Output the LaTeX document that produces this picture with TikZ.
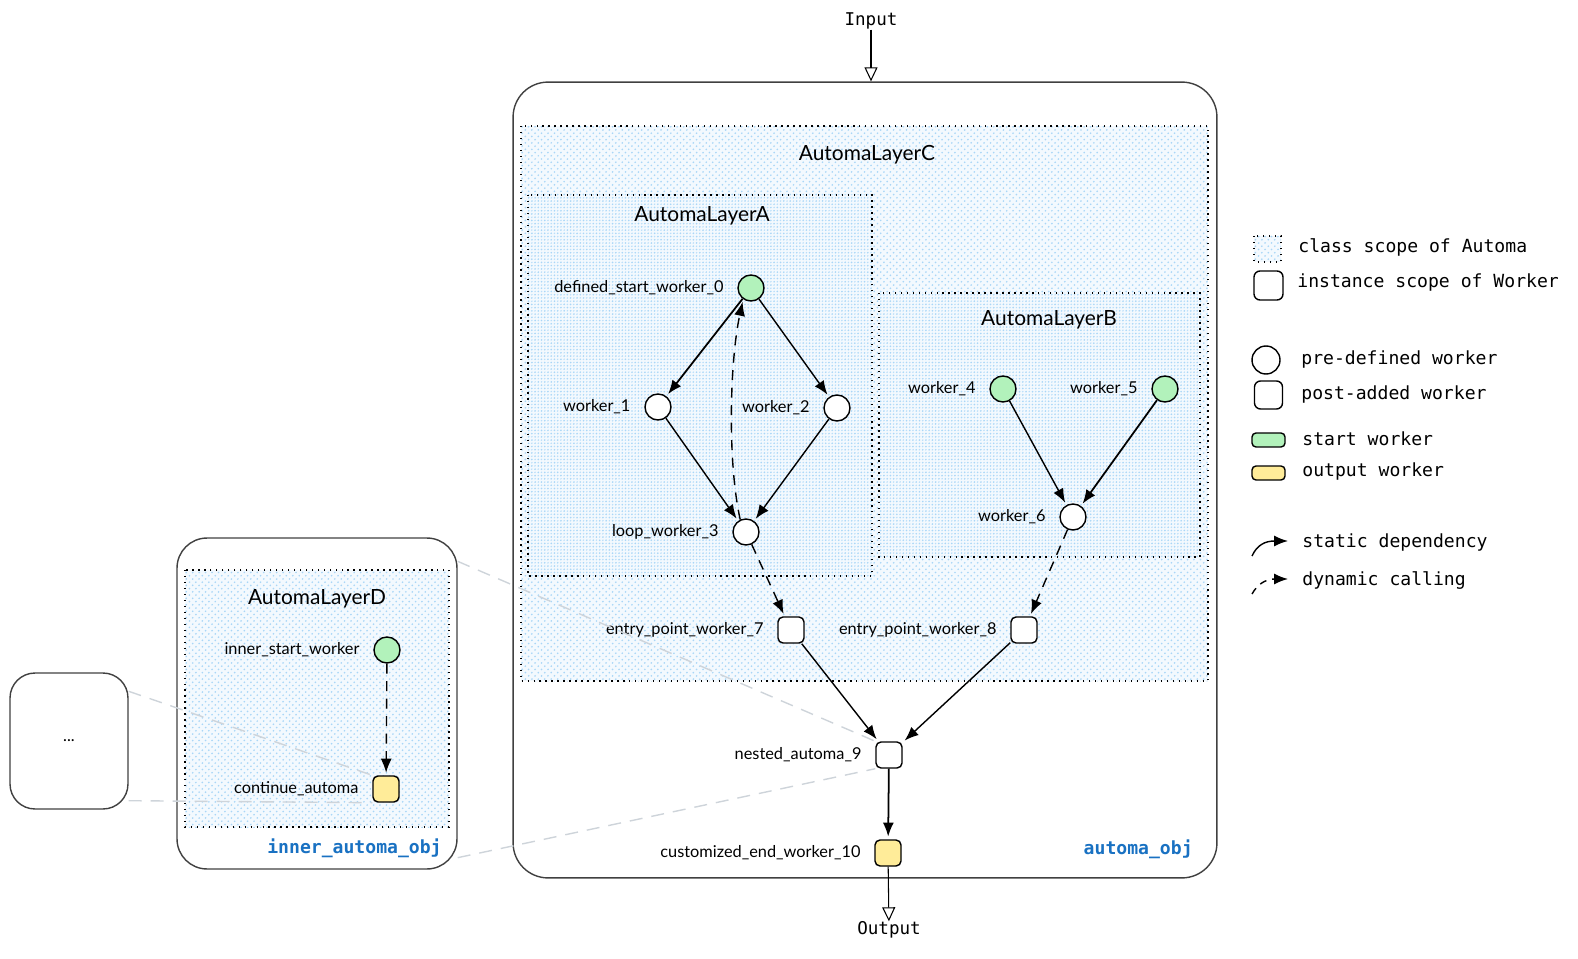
\documentclass[tikz,border=0pt]{standalone}
\usepackage{fontspec}
\setmainfont{Lato}
\setmonofont{DejaVu Sans Mono}
\usetikzlibrary{positioning, arrows.meta, patterns.meta}

\definecolor{startgreen}{HTML}{B2F2BB}
\definecolor{outyellow}{HTML}{FFEC99}
\definecolor{objblue}{HTML}{1971C2}
\definecolor{hatchblue}{HTML}{A9D6F7}
\definecolor{scopebg}{HTML}{F3F9FE}
\definecolor{zoomgray}{HTML}{CED4DA}

\tikzset{
  worker/.style={circle, draw, line width=0.8pt, minimum size=0.52cm, inner sep=0pt, fill=white},
  startworker/.style={worker, fill=startgreen},
  added/.style={rectangle, rounded corners=0.1cm, draw, line width=0.8pt, minimum size=0.52cm, inner sep=0pt, fill=white},
  outworker/.style={added, fill=outyellow},
  lbl/.style={font=\fontsize{9.3}{11}\selectfont, inner sep=0pt},
  title/.style={font=\fontsize{11.9}{14}\selectfont, inner sep=0pt},
  io/.style={font=\ttfamily\fontsize{10}{12}\selectfont, inner sep=0pt},
  legend/.style={font=\ttfamily\fontsize{10.3}{12}\selectfont, inner sep=0pt, anchor=west},
  objname/.style={font=\ttfamily\bfseries\fontsize{10.3}{12}\selectfont, text=objblue, inner sep=0pt, anchor=east},
  instbox/.style={rectangle, draw=black!75, line width=0.8pt, inner sep=0pt},
  scopebox/.style={draw, line width=0.8pt, dash pattern=on 0.8pt off 2.6pt,
    preaction={fill=scopebg}, pattern={Lines[angle=45, distance=2.6pt, line width=0.7pt]}, pattern color=hatchblue},
  innerscope/.style={draw, line width=0.8pt, dash pattern=on 0.8pt off 2.6pt,
    pattern={Lines[angle=45, distance=2.6pt, yshift=1.84pt, line width=0.6pt]}, pattern color=hatchblue!80},
  dep/.style={-{Latex[length=0.28cm,width=0.22cm]}, line width=0.8pt, shorten >=1.5pt},
  dyn/.style={dep, dash pattern=on 0.2cm off 0.15cm},
  ioarrow/.style={-{Triangle[open,length=0.28cm,width=0.26cm]}, line width=0.6pt},
  zoomline/.style={draw=zoomgray, line width=0.8pt, dash pattern=on 0.26cm off 0.18cm},
}

\begin{document}
\begin{tikzpicture}[x=0.02cm, y=-0.02cm, label distance=0.27cm]
\useasboundingbox (0,0) rectangle (1578,959);

% instance scopes
\node[instbox, rounded corners=0.7cm, minimum width=14.08cm, minimum height=15.92cm] (main) at (865,480) {};
\node[instbox, rounded corners=0.6cm, minimum width=5.6cm, minimum height=6.62cm] (inner) at (317,703.5) {};
\node[instbox, rounded corners=0.5cm, minimum width=2.36cm, minimum height=2.72cm, font=\fontsize{9.3}{11}\selectfont] (dots) at (69,741) {...};

% class scopes
\draw[scopebox] (521,126) rectangle (1208,681);
\draw[innerscope] (528,195) rectangle (872,576);
\draw[innerscope] (879,293) rectangle (1200,557);
\draw[scopebox] (185,570) rectangle (449,827);
\node[title] (layerC) at (867,155) {AutomaLayerC};
\node[title] (layerA) at (702,216) {AutomaLayerA};
\node[title] (layerB) at (1049,320) {AutomaLayerB};
\node[title] (layerD) at (317,599) {AutomaLayerD};

\node[objname] (mainname) at (1193,849) {automa\_obj};
\node[objname] (innername) at (442,848) {inner\_automa\_obj};

% workers
\node[startworker, label={[lbl]left:defined\_start\_worker\_0}] (w0) at (751,288) {};
\node[worker, label={[lbl]left:worker\_1}] (w1) at (658,407) {};
\node[worker, label={[lbl]left:worker\_2}] (w2) at (837,408) {};
\node[worker, label={[lbl]left:loop\_worker\_3}] (w3) at (746,532) {};
\node[startworker, label={[lbl]left:worker\_4}] (w4) at (1003,389) {};
\node[startworker, label={[lbl]left:worker\_5}] (w5) at (1165,389) {};
\node[worker, label={[lbl]left:worker\_6}] (w6) at (1073,517) {};
\node[added, label={[lbl]left:entry\_point\_worker\_7}] (e7) at (791,630) {};
\node[added, label={[lbl]left:entry\_point\_worker\_8}] (e8) at (1024,630) {};
\node[added, label={[lbl]left:nested\_automa\_9}] (n9) at (889,755) {};
\node[outworker, label={[lbl]left:customized\_end\_worker\_10}] (c10) at (888,853) {};
\node[startworker, label={[lbl]left:inner\_start\_worker}] (is) at (387,650) {};
\node[outworker, label={[lbl]left:continue\_automa}] (ca) at (386,789) {};

% zoom lines
\draw[zoomline] ([yshift=-0.48cm]inner.north east) -- (n9.north west);
\draw[zoomline] ([yshift=0.24cm]inner.south east) -- (n9.south west);
\draw[zoomline] ([yshift=-0.38cm]dots.north east) -- (ca.north west);
\draw[zoomline] ([yshift=0.18cm]dots.south east) -- (ca.south west);

\path (w0) edge[dep, line width=1pt] (w1);
\path (w0) edge[dep] (w2);
\path (w1) edge[dep] (w3);
\path (w2) edge[dep] (w3);
\draw[dyn] (w3.115) .. controls (727,460) and (730,360) .. (w0.235);
\path (w3) edge[dyn] (e7);
\path (w4) edge[dep] (w6);
\path (w5) edge[dep, line width=1pt] (w6);
\path (w6) edge[dyn] (e8);
\path (e7) edge[dep] (n9);
\path (e8) edge[dep] (n9);
\path (n9) edge[dep, line width=1pt] (c10);
\path (is) edge[dyn] (ca);

% input / output
\node[io] (in) at (871,21) {Input};
\node[io] (out) at (889,930) {Output};
\draw[ioarrow] (in) -- (in |- main.north);
\draw[ioarrow] (c10) -- (out);

% legend
\draw[scopebox] (1254,236) rectangle (1281,262);
\node[legend] (lg1) at (1298,247) {class scope of Automa};
\node[added, minimum size=0.58cm, rounded corners=0.12cm] (sw2) at (1268.5,285.5) {};
\node[legend] (lg2) at (1297,283) {instance scope of Worker};
\node[worker, minimum size=0.56cm] (sw3) at (1266,360) {};
\node[legend] (lg3) at (1301,360) {pre-defined worker};
\node[added, minimum size=0.56cm, rounded corners=0.12cm] (sw4) at (1268.5,395) {};
\node[legend] (lg4) at (1301,395) {post-added worker};
\node[added, fill=startgreen, minimum width=0.66cm, minimum height=0.28cm, rounded corners=0.08cm] (sw5) at (1268.5,440) {};
\node[legend] (lg5) at (1302,439) {start worker};
\node[added, fill=outyellow, minimum width=0.66cm, minimum height=0.28cm, rounded corners=0.08cm] (sw6) at (1268.5,473) {};
\node[legend] (lg6) at (1302,472) {output worker};
\coordinate (s0) at (1252,556);
\coordinate (s1) at (1288,541);
\draw[dep, shorten >=0pt] (s0) .. controls (1257,545) and (1265,541) .. (s1);
\node[legend] (lg7) at (1302,543) {static dependency};
\coordinate (d0) at (1252,594);
\coordinate (d1) at (1288,579);
\draw[dep, shorten >=0pt, dash pattern=on 0.14cm off 0.12cm] (d0) .. controls (1257,585) and (1265,579) .. (d1);
\node[legend] (lg8) at (1302,581) {dynamic calling};
\end{tikzpicture}
\end{document}
